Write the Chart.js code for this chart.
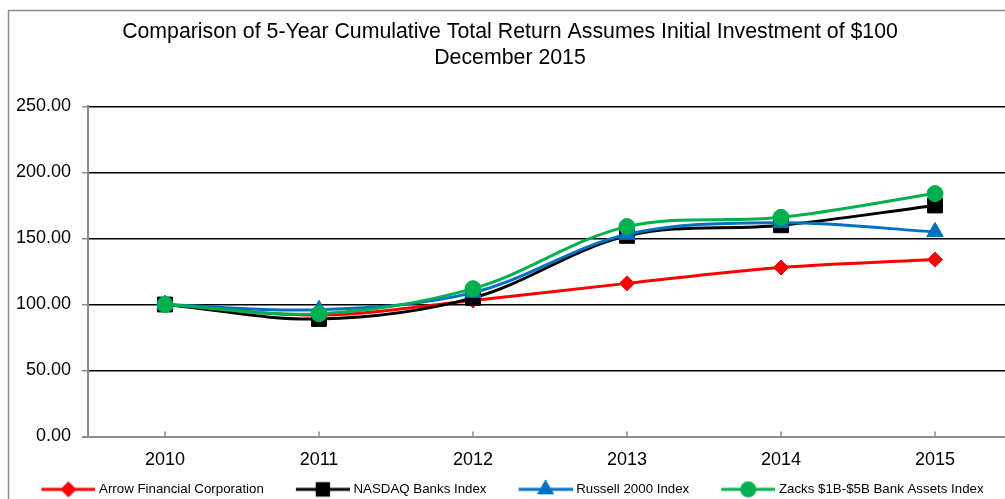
<!DOCTYPE html>
<html>
<head>
<meta charset="utf-8">
<script src="https://cdn.jsdelivr.net/npm/chart.js@4/dist/chart.umd.min.js"></script>
<style>
html, body { margin: 0; padding: 0; background: #fff; overflow: hidden; width: 1005px; height: 499px; }
#wrap { position: absolute; left: 0; top: 0; width: 1012px; height: 506px; }
</style>
</head>
<body>
<div id="wrap"><canvas id="c" width="1012" height="506"></canvas></div>
<script>
const categories = ['2010', '2011', '2012', '2013', '2014', '2015'];
const arrowValues = [100, 92, 103, 116, 128, 134];
const nasdaqValues = [100, 89, 105, 152, 160, 175];
const russellValues = [100, 96, 109, 153, 162, 155];
const zacksValues = [100, 93, 112, 159, 166, 184];
const seriesNames = ['Arrow Financial Corporation', 'NASDAQ Banks Index', 'Russell 2000 Index', 'Zacks $1B-$5B Bank Assets Index'];
const yTickValues = [0, 50, 100, 150, 200, 250];
const titleLines = ['Comparison of 5-Year Cumulative Total Return Assumes Initial Investment of $100', 'December 2015'];

const FONT = "'Liberation Sans', Arial, sans-serif";
const LEG_BOX = 73;
const LEG_LINE = 54;

function legendIcon(color, style, radius) {
  const W = LEG_BOX + 6;
  const c = document.createElement('canvas');
  c.width = W; c.height = 18;
  const ctx = c.getContext('2d');
  ctx.strokeStyle = color; ctx.fillStyle = color; ctx.lineWidth = 3;
  const x0 = W - LEG_LINE;
  ctx.beginPath(); ctx.moveTo(x0, 9); ctx.lineTo(W, 9); ctx.stroke();
  Chart.helpers.drawPoint(ctx, {pointStyle: style, radius: radius, rotation: 0, borderWidth: 1}, x0 + LEG_LINE / 2, 9);
  return c;
}

const styles = [
  {color: '#FF0000', style: 'rectRot', r: 7.5, lr: 6},
  {color: '#000000', style: 'rect', r: 10.5, lr: 8},
  {color: '#0070C0', style: 'triangle', r: 9.5, lr: 7},
  {color: '#00B050', style: 'circle', r: 8, lr: 6.5}
];
const values = [arrowValues, nasdaqValues, russellValues, zacksValues];
const orders = [4, 3, 2, 1];

const datasets = values.map((v, i) => ({
  label: seriesNames[i],
  data: v,
  borderColor: styles[i].color,
  backgroundColor: styles[i].color,
  pointBackgroundColor: styles[i].color,
  pointBorderColor: styles[i].color,
  pointStyle: styles[i].style,
  pointRadius: styles[i].r,
  pointHoverRadius: styles[i].r,
  pointBorderWidth: 1,
  borderWidth: 3,
  tension: 0.35,
  order: orders[i],
  clip: false
}));

const framePlugin = {
  id: 'frame',
  afterLayout(chart) {
    const shift = (LEG_BOX - LEG_LINE + 3) / 2 - 2.5;
    if (chart.legend) { chart.legend.left -= shift; chart.legend.right -= shift; }
  },
  beforeDraw(chart) {
    const ctx = chart.ctx;
    ctx.save();
    ctx.fillStyle = '#fff';
    ctx.fillRect(0, 0, chart.width, chart.height);
    ctx.strokeStyle = '#8c8c8c';
    ctx.lineWidth = 1.5;
    ctx.strokeRect(8.5, 10.5, 1200, 600);
    ctx.restore();
  },
  afterDraw(chart) {
    const ctx = chart.ctx;
    const xs = chart.scales.x;
    const b = chart.chartArea.bottom;
    ctx.save();
    ctx.strokeStyle = '#8c8c8c';
    ctx.lineWidth = 1.5;
    categories.forEach((c, i) => {
      const x = xs.getPixelForValue(i);
      ctx.beginPath(); ctx.moveTo(x, b - 5); ctx.lineTo(x, b); ctx.stroke();
    });
    ctx.restore();
  }
};

new Chart(document.getElementById('c'), {
  type: 'line',
  data: { labels: categories, datasets: datasets },
  plugins: [framePlugin],
  options: {
    responsive: false,
    animation: false,
    events: [],
    layout: { autoPadding: false, padding: { left: 8, right: 0, top: 0, bottom: 0 } },
    plugins: {
      title: {
        display: true,
        text: titleLines,
        color: '#000',
        font: { family: FONT, size: 21.3, weight: 'normal', lineHeight: 1.22 },
        padding: { top: 19, bottom: 35.5 }
      },
      legend: {
        position: 'bottom',
        labels: {
          usePointStyle: true,
          pointStyleWidth: LEG_BOX,
          color: '#000',
          padding: 10,
          font: { family: FONT, size: 13.3 },
          generateLabels(chart) {
            return chart.data.datasets.map((d, i) => ({
              text: d.label,
              pointStyle: legendIcon(styles[i].color, styles[i].style, styles[i].lr),
              fillStyle: styles[i].color,
              strokeStyle: styles[i].color,
              lineWidth: 0,
              fontColor: '#000',
              hidden: false,
              datasetIndex: i
            }));
          }
        }
      },
      tooltip: { enabled: false }
    },
    scales: {
      x: {
        type: 'category',
        offset: true,
        afterFit(s) { s.height = 36.2; s.paddingLeft = 0; s.paddingRight = 0; },
        grid: { display: true, drawOnChartArea: false, drawTicks: false },
        border: { display: true, color: '#8c8c8c', width: 2 },
        ticks: { color: '#000', font: { family: FONT, size: 18 }, padding: 12.5, maxRotation: 0 }
      },
      y: {
        min: 0,
        max: 250,
        afterFit(s) { s.width = 80; },
        afterBuildTicks(s) { s.ticks = yTickValues.map(v => ({ value: v })); },
        grid: {
          color: (c) => (c.tick && c.tick.value === 0) ? '#8c8c8c' : '#000',
          lineWidth: (c) => (c.tick && c.tick.value === 0) ? 2 : 1.5,
          tickColor: '#8c8c8c',
          tickLength: 6,
          drawTicks: true
        },
        border: { display: true, color: '#8c8c8c', width: 2 },
        ticks: {
          color: '#000',
          font: { family: FONT, size: 18 },
          padding: 11,
          callback: (v) => Number(v).toFixed(2)
        }
      }
    }
  }
});
</script>
</body>
</html>
